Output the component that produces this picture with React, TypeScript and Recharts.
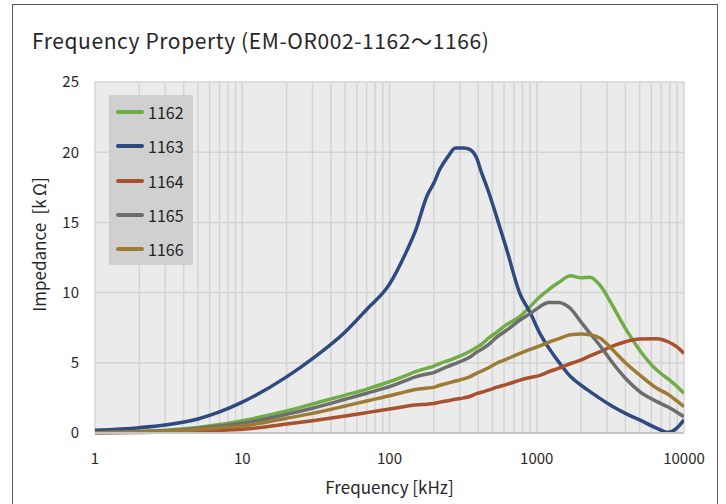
import React from 'react';
import { LineChart, Line, XAxis, YAxis, CartesianGrid, Label } from 'recharts';

const freq = [1, 2, 3, 5, 7, 10, 20, 30, 50, 70, 100, 130, 150, 180, 200, 220, 250, 280, 320, 350, 390, 420, 470, 530, 620, 770, 900, 1050, 1200, 1400, 1700, 2000, 2300, 2700, 3300, 4000, 5000, 6500, 7800, 8900, 10000];

const s1162 = [0.05, 0.12, 0.2, 0.4, 0.6, 0.88, 1.57, 2.07, 2.7, 3.13, 3.65, 4.1, 4.37, 4.62, 4.77, 4.95, 5.15, 5.35, 5.6, 5.8, 6.1, 6.3, 6.75, 7.15, 7.7, 8.3, 9.0, 9.7, 10.2, 10.7, 11.2, 11.05, 11.1, 10.5, 9.0, 7.45, 5.9, 4.5, 3.85, 3.35, 2.83];
const s1163 = [0.2, 0.38, 0.57, 1.0, 1.5, 2.2, 4.0, 5.3, 7.2, 8.8, 10.6, 12.9, 14.4, 16.9, 17.8, 18.8, 19.7, 20.3, 20.3, 20.2, 19.6, 18.6, 17.2, 15.5, 13.2, 9.9, 8.6, 7.1, 6.1, 5.1, 4.0, 3.4, 2.95, 2.45, 1.87, 1.4, 0.93, 0.35, 0.05, 0.33, 0.93];
const s1164 = [0.01, 0.04, 0.07, 0.14, 0.2, 0.26, 0.64, 0.88, 1.21, 1.45, 1.71, 1.9, 2.0, 2.05, 2.1, 2.2, 2.3, 2.4, 2.5, 2.6, 2.8, 2.9, 3.05, 3.25, 3.45, 3.77, 3.95, 4.1, 4.35, 4.6, 4.95, 5.2, 5.5, 5.8, 6.2, 6.5, 6.7, 6.72, 6.5, 6.15, 5.67];
const s1165 = [0.03, 0.1, 0.16, 0.33, 0.5, 0.69, 1.33, 1.76, 2.4, 2.83, 3.3, 3.75, 4.0, 4.2, 4.3, 4.5, 4.75, 4.95, 5.2, 5.4, 5.75, 5.95, 6.3, 6.8, 7.3, 8.05, 8.5, 9.0, 9.3, 9.3, 8.85, 7.9, 7.1, 6.2, 4.95, 3.9, 2.95, 2.25, 1.85, 1.5, 1.16];
const s1166 = [0.02, 0.07, 0.12, 0.25, 0.37, 0.5, 1.05, 1.4, 1.92, 2.28, 2.65, 2.95, 3.1, 3.2, 3.25, 3.4, 3.55, 3.7, 3.85, 4.0, 4.25, 4.4, 4.65, 4.95, 5.25, 5.67, 5.95, 6.2, 6.45, 6.7, 7.0, 7.05, 7.0, 6.75, 5.9, 5.0, 4.13, 3.2, 2.75, 2.3, 1.87];

const seriesNames = ['1162', '1163', '1164', '1165', '1166'];
const seriesColors = ['#70ad47', '#2f4a7f', '#a9502d', '#6d6d6d', '#9e7b34'];
const seriesValues = [s1162, s1163, s1164, s1165, s1166];

const majorTicks = [1, 10, 100, 1000, 10000];
const xTicks = [
  1, 2, 3, 4, 5, 6, 7, 8, 9,
  10, 20, 30, 40, 50, 60, 70, 80, 90,
  100, 200, 300, 400, 500, 600, 700, 800, 900,
  1000, 2000, 3000, 4000, 5000, 6000, 7000, 8000, 9000,
  10000,
];
const yTicks = [0, 5, 10, 15, 20, 25];

const data = freq.map((f, i) => {
  const row: Record<string, number> = { f };
  seriesNames.forEach((n, k) => { row[n] = seriesValues[k][i]; });
  return row;
});

const font = '"Noto Sans CJK JP", "Noto Sans", sans-serif';

const LegendBox = () => (
  <div style={{ position: 'absolute', left: 109, top: 95, background: '#d0d0d0', width: 84, height: 170 }}>
    {seriesNames.map((n, k) => (
      <div key={n} style={{ display: 'flex', alignItems: 'center', height: 34.3 }}>
        <div style={{ width: 28, height: 4, borderRadius: 2, background: seriesColors[k], marginLeft: 7, marginRight: 4 }} />
        <span style={{ fontFamily: font, fontSize: 16, color: '#222', lineHeight: '16px' }}>{n}</span>
      </div>
    ))}
  </div>
);

// y title sits a bit above the plot's middle in the original
const YTitle = ({ viewBox }: any) => {
  const x = 38;
  const y = viewBox.y + viewBox.height / 2 - 13;
  return (
    <text
      x={x}
      y={y}
      transform={`rotate(-90, ${x}, ${y})`}
      textAnchor="middle"
      dominantBaseline="central"
      style={{ fill: '#262626', fontSize: 17, fontFamily: font }}
    >
      {'Impedance\u2002[k\u2009Ω]'}
    </text>
  );
};

export default function App() {
  return (
    <div style={{ position: 'absolute', left: 0, top: 0, width: 726, height: 504, overflow: 'hidden', background: '#fff' }}>
      <div style={{ position: 'absolute', left: 12, top: 4, width: 704, height: 540, border: '1.5px solid #595959' }} />
      <div style={{ position: 'absolute', left: 32, top: 25, fontFamily: font, fontSize: 21, letterSpacing: 0.6, color: '#262626', whiteSpace: 'nowrap' }}>
        Frequency Property (EM-OR002-1162～1166)
      </div>
      <div style={{ position: 'absolute', left: 0, top: 0 }}>
        <LineChart width={726} height={504} data={data} margin={{ top: 82, right: 42, left: 35, bottom: 41 }}>
          <CartesianGrid fill="#ebebeb" stroke="#d4d4d4" strokeWidth={1.5} />
          <XAxis
            dataKey="f"
            type="number"
            scale="log"
            domain={[1, 10000]}
            ticks={xTicks}
            interval={0}
            allowDataOverflow
            height={30}
            tickLine={false}
            axisLine={{ stroke: '#c4c4c4', strokeWidth: 2 }}
            tickMargin={14}
            tickFormatter={(v: number) => (majorTicks.includes(v) ? String(v) : '')}
            tick={{ fill: '#262626', fontSize: 15, fontFamily: font }}
          >
            <Label value="Frequency [kHz]" position="bottom" offset={19} style={{ fill: '#262626', fontSize: 17, fontFamily: font }} />
          </XAxis>
          <YAxis
            type="number"
            domain={[0, 25]}
            ticks={yTicks}
            width={60}
            tickLine={false}
            axisLine={false}
            tickMargin={10}
            tick={{ fill: '#262626', fontSize: 15, fontFamily: font }}
          >
            <Label content={<YTitle />} />
          </YAxis>
          {seriesNames.map((n, k) => (
            <Line
              key={n}
              dataKey={n}
              name={n}
              type="monotone"
              stroke={seriesColors[k]}
              strokeWidth={3.5}
              dot={false}
              isAnimationActive={false}
            />
          ))}
        </LineChart>
      </div>
      <LegendBox />
    </div>
  );
}
